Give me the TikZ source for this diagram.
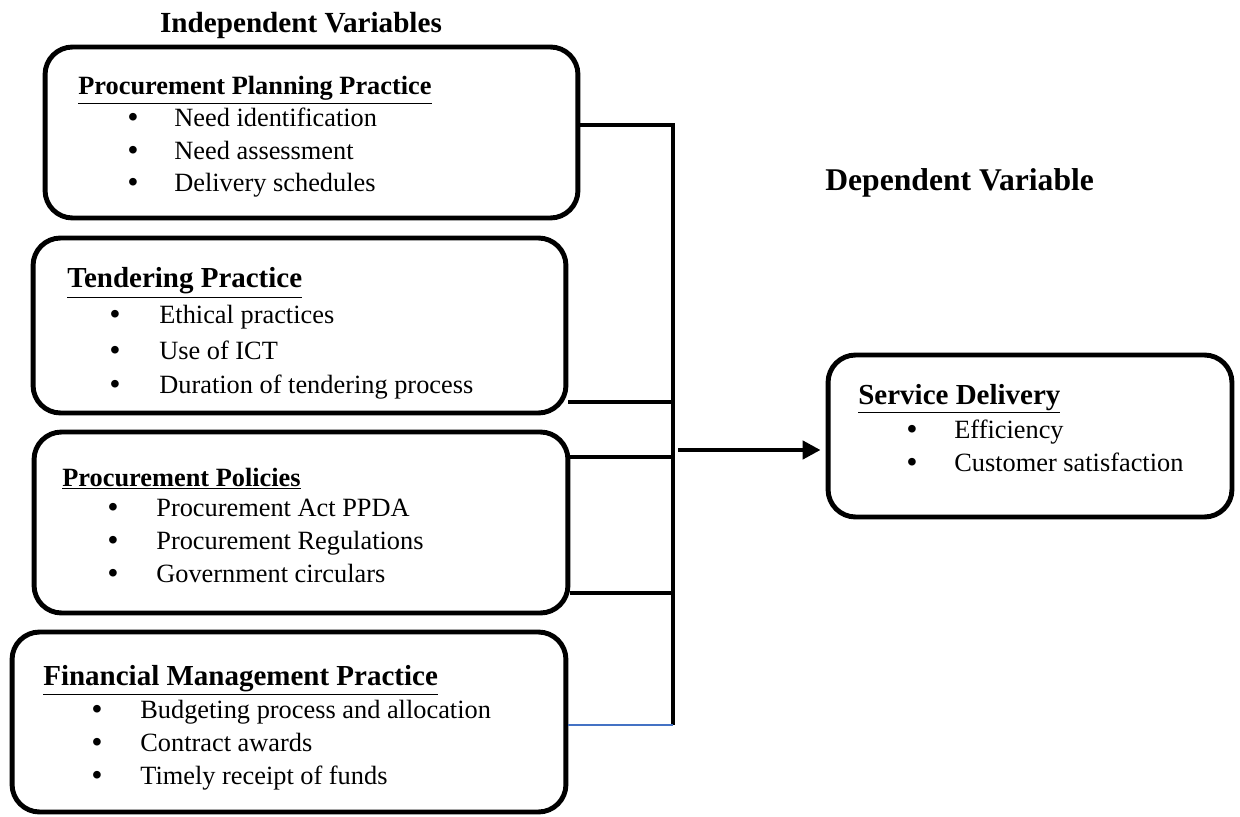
\documentclass[tikz,border=0pt]{standalone}
\usepackage{fontspec}
\setmainfont{Liberation Serif}
\usetikzlibrary{arrows.meta}
\definecolor{wordblue}{RGB}{68,114,196}
\tikzset{
  box/.style={draw, line width=2.8pt, rounded corners=0.55cm, inner sep=0pt},
  head/.style={anchor=base west, inner sep=0pt, font=\fontsize{15}{18}\selectfont\bfseries},
  bighead/.style={head, font=\fontsize{16.5}{20}\selectfont\bfseries},
  item/.style={anchor=base west, inner sep=0pt, font=\fontsize{15}{18}\selectfont},
  bul/.style={anchor=base, inner sep=0pt, font=\fontsize{16}{18}\selectfont\bfseries},
  conn/.style={line width=2.8pt},
}
\begin{document}
\begin{tikzpicture}[x=0.02cm, y=-0.02cm, >={Triangle[length=0.36cm, width=0.36cm]}]
    \useasboundingbox (0,0) rectangle (1240,817);

    % 1. Titles
    \node[anchor=base, inner sep=0pt, font=\fontsize{16.6}{20}\selectfont\bfseries] (indep) at (301,33) {Independent Variables};
    \node[anchor=base west, inner sep=0pt, font=\fontsize{18}{22}\selectfont\bfseries] (dep) at (825,191) {Dependent Variable};

    % 2. Procurement planning box
    \node[box, minimum width=10.66cm, minimum height=3.42cm] (pp) at (311.5,132.5) {};
    \node[head] (pph) at (78,95) {\underline{Procurement Planning Practice}};
    \node[bul] (ppb1) at (133,127) {\textbullet};
    \node[item] (ppi1) at (174,127) {Need identification};
    \node[bul] (ppb2) at (133,160) {\textbullet};
    \node[item] (ppi2) at (174,160) {Need assessment};
    \node[bul] (ppb3) at (133,192) {\textbullet};
    \node[item] (ppi3) at (174,192) {Delivery schedules};

    % 3. Tendering box
    \node[box, minimum width=10.66cm, minimum height=3.5cm] (tp) at (299.5,325.5) {};
    \node[bighead] (tph) at (67,288) {\underline{Tendering Practice}};
    \node[bul] (tpb1) at (115,324) {\textbullet};
    \node[item] (tpi1) at (159,324) {Ethical practices};
    \node[bul] (tpb2) at (115,359) {\textbullet};
    \node[item] (tpi2) at (159,359) {Use of ICT};
    \node[bul] (tpb3) at (115,393) {\textbullet};
    \node[item] (tpi3) at (159,393) {Duration of tendering process};

    % 4. Policies box
    \node[box, minimum width=10.68cm, minimum height=3.62cm] (pol) at (301,522.5) {};
    \node[head] (polh) at (62,486) {\underline{Procurement Policies}};
    \node[bul] (polb1) at (113,516) {\textbullet};
    \node[item] (poli1) at (156,516) {Procurement Act PPDA};
    \node[bul] (polb2) at (113,549) {\textbullet};
    \node[item] (poli2) at (156,549) {Procurement Regulations};
    \node[bul] (polb3) at (113,582) {\textbullet};
    \node[item] (poli3) at (156,582) {Government circulars};

    % 5. Financial management box
    \node[box, minimum width=11.08cm, minimum height=3.6cm] (fm) at (289,722) {};
    \node[bighead] (fmh) at (43,685) {\underline{Financial Management Practice}};
    \node[bul] (fmb1) at (97,718) {\textbullet};
    \node[item] (fmi1) at (140,718) {Budgeting process and allocation};
    \node[bul] (fmb2) at (97,751) {\textbullet};
    \node[item] (fmi2) at (140,751) {Contract awards};
    \node[bul] (fmb3) at (97,784) {\textbullet};
    \node[item] (fmi3) at (140,784) {Timely receipt of funds};

    % 6. Service delivery box
    \node[box, minimum width=8.08cm, minimum height=3.24cm] (sd) at (1030,436) {};
    \node[bighead] (sdh) at (858,404) {\underline{Service Delivery}};
    \node[bul] (sdb1) at (912,438) {\textbullet};
    \node[item] (sdi1) at (954,438) {Efficiency};
    \node[bul] (sdb2) at (912,471) {\textbullet};
    \node[item] (sdi2) at (954,471) {Customer satisfaction};

    % 7. Joining bar
    \coordinate (bartop) at (673,125);
    \coordinate (barbot) at (673,725);
    \coordinate (j2) at (673,402);
    \coordinate (j3a) at (673,457);
    \coordinate (j3b) at (673,593);
    \coordinate (arr) at (678,450);
    \draw[conn] (pp.east |- bartop) -- (bartop) -- (barbot);
    \draw[conn] (tp.east |- j2) -- (j2);
    \draw[conn] (pol.east |- j3a) -- (j3a);
    \draw[conn] (pol.east |- j3b) -- (j3b);
    \draw[wordblue, line width=0.6pt] (fm.east |- barbot) -- (barbot);

    % 8. Arrow to dependent variable
    \draw[->, conn, shorten >=0.1cm] (arr) -- (sd.west |- arr);

\end{tikzpicture}
\end{document}
